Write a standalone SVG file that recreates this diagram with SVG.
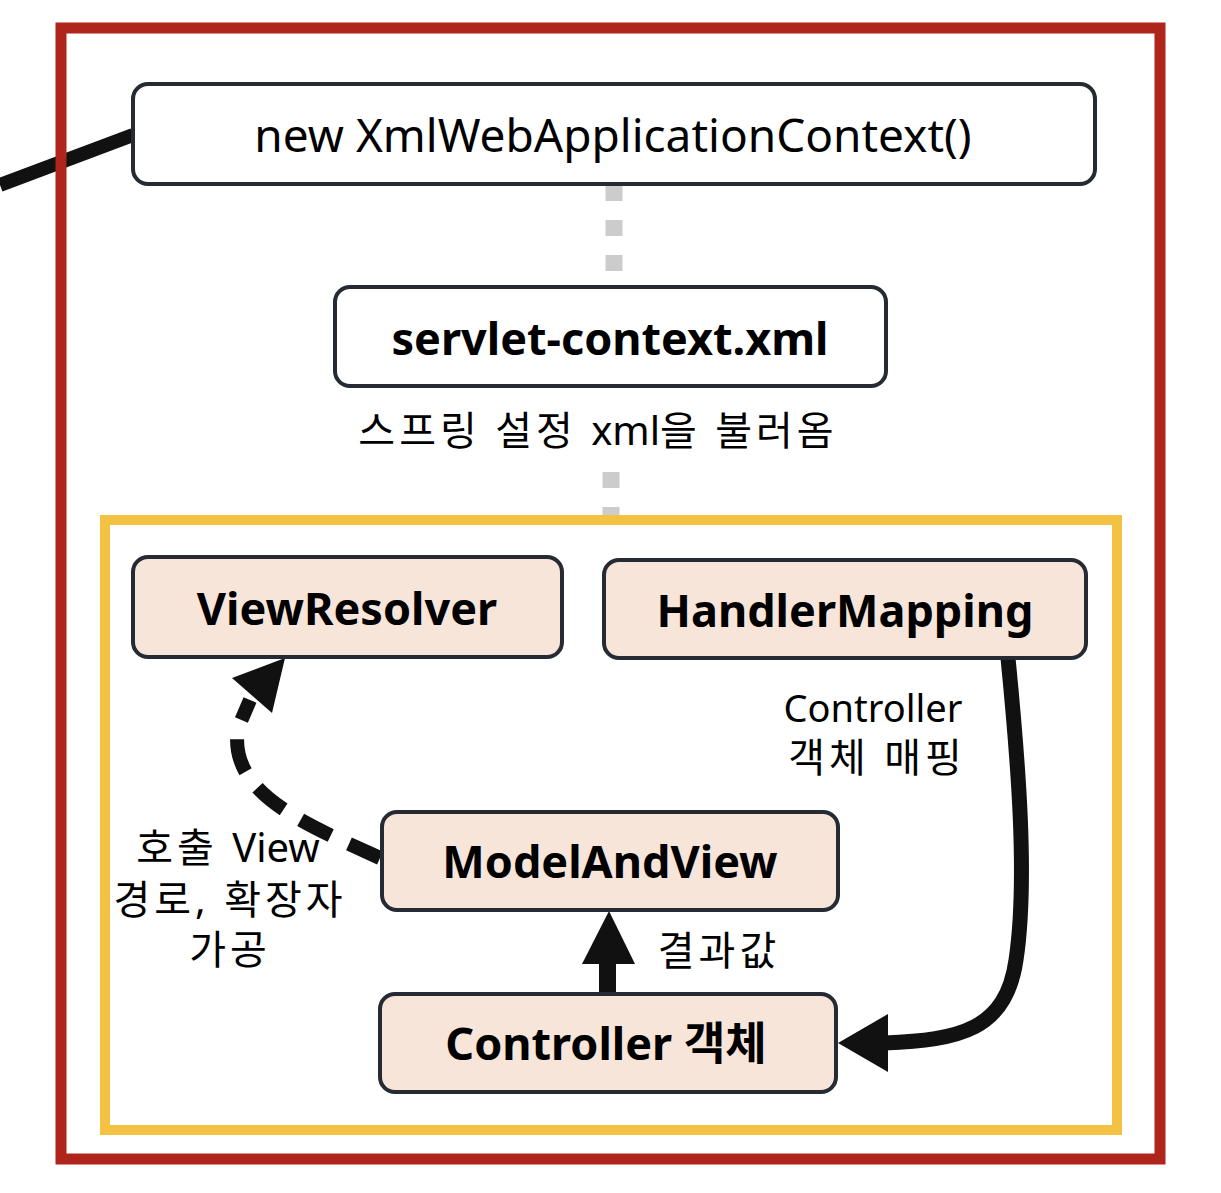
<svg xmlns="http://www.w3.org/2000/svg" width="1221" height="1193" viewBox="0 0 1221 1193">
<style>
.box{stroke:#252a33;stroke-width:4}
.plain{fill:#ffffff}
.peach{fill:#f7e5da}
.t{font-family:"Noto Sans","Noto Sans CJK KR",sans-serif;fill:#000;text-anchor:middle}
.b{font-weight:bold;font-size:45px}
.lbl{font-size:40px}
.ko{letter-spacing:4px}
.lat{letter-spacing:0px}
.dot{stroke:#cccccc;stroke-width:17;fill:none;stroke-dasharray:16 19}
</style>
<rect width="1221" height="1193" fill="#ffffff"/>
<g id="connectors">
<line x1="0" y1="185" x2="133" y2="135" stroke="#111" stroke-width="14"/>
<line class="dot" x1="614" y1="185" x2="614" y2="287"/>
<line class="dot" x1="611" y1="472" x2="611" y2="518"/>
<path d="M380 858 C300 822 228 792 238 728 L250 700" fill="none" stroke="#111" stroke-width="14" stroke-dasharray="34 20"/>
<polygon points="285,658 232,678 272,713" fill="#111"/>
<rect x="599" y="960" width="17" height="36" fill="#111"/>
<polygon points="609,911 582,964 635,964" fill="#111"/>
<path d="M1008 658 C1018 760 1028 880 1016 960 C1006 1030 960 1040 884 1043" fill="none" stroke="#111" stroke-width="15"/>
<polygon points="838,1043 888,1014 888,1072" fill="#111"/>
</g>
<rect id="outer-frame" x="61" y="28" width="1099" height="1131" fill="none" stroke="#b0251b" stroke-width="11"/>
<rect id="inner-frame" x="105" y="520" width="1012" height="610" fill="none" stroke="#f4c242" stroke-width="10"/>
<g id="node-xmlwebctx">
<rect class="box plain" x="133" y="84" width="962" height="100" rx="15"/>
<text class="t" x="613" y="152" font-size="46">new XmlWebApplicationContext()</text>
</g>
<g id="node-servlet">
<rect class="box plain" x="335" y="287" width="551" height="99" rx="15"/>
<text class="t b" x="610" y="355">servlet-context.xml</text>
</g>
<text class="t lbl" x="598" y="445"><tspan class="ko">스프링 설정 </tspan><tspan class="lat">xml</tspan><tspan class="ko">을 불러옴</tspan></text>
<g id="node-viewresolver">
<rect class="box peach" x="133" y="557" width="429" height="100" rx="15"/>
<text class="t b" x="347" y="625">ViewResolver</text>
</g>
<g id="node-handlermapping">
<rect class="box peach" x="604" y="560" width="482" height="98" rx="15"/>
<text class="t b" x="845" y="627" font-size="46">HandlerMapping</text>
</g>
<g id="node-modelandview">
<rect class="box peach" x="382" y="812" width="456" height="98" rx="15"/>
<text class="t b" x="610" y="878" font-size="47">ModelAndView</text>
</g>
<g id="node-controller">
<rect class="box peach" x="380" y="994" width="456" height="98" rx="15"/>
<text class="t b" x="606" y="1060" font-size="47">Controller 객체</text>
</g>
<text class="t" font-size="38" x="873" y="722">Controller</text>
<text class="t lbl ko" x="877" y="772">객체 매핑</text>
<text class="t lbl" x="228" y="862"><tspan class="ko">호출 </tspan>View</text>
<text class="t lbl ko" x="230" y="914">경로, 확장자</text>
<text class="t lbl ko" x="230" y="964">가공</text>
<text class="t lbl ko" x="719" y="965">결과값</text>
</svg>
